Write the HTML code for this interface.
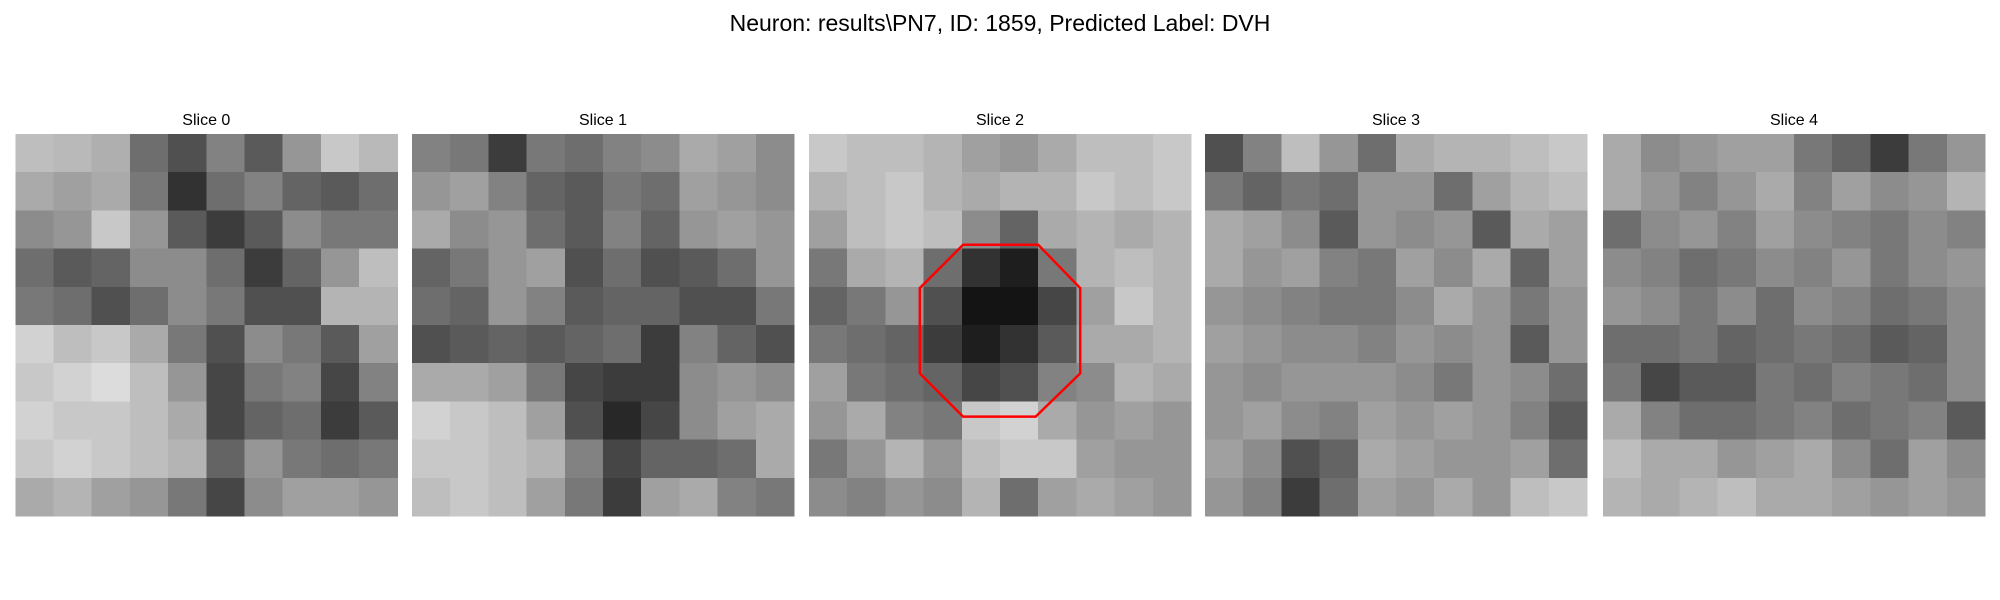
<!DOCTYPE html>
<html><head><meta charset="utf-8"><style>
html,body{margin:0;padding:0;background:#fff;}
svg{display:block;font-family:"Liberation Sans","DejaVu Sans",sans-serif;}
</style></head><body>
<svg id="fig" width="2000" height="600" viewBox="0 0 2000 600" xmlns="http://www.w3.org/2000/svg">
<text x="1000" y="31" text-anchor="middle" font-size="23" fill="#000">Neuron: results\PN7, ID: 1859, Predicted Label: DVH</text>
<g id="panels"></g>
</svg>
<script>
const sliceTitles = ["Slice 0","Slice 1","Slice 2","Slice 3","Slice 4"];
const slice0 = [
[190,185,175,110,80,130,90,150,200,185],
[170,160,170,120,50,110,130,100,90,110],
[140,150,200,150,90,60,90,140,120,120],
[110,90,100,140,140,110,60,100,150,190],
[120,110,80,110,140,120,80,80,180,180],
[210,190,200,170,120,80,140,120,90,160],
[200,210,220,190,150,70,120,130,70,130],
[210,200,200,190,170,70,100,110,60,90],
[200,210,200,190,180,100,150,120,110,120],
[170,180,160,150,120,70,140,160,160,150]];
const slice1 = [
[130,120,60,120,110,130,140,170,160,140],
[150,160,130,100,90,120,110,160,150,140],
[170,140,150,110,90,130,100,150,160,150],
[100,120,150,160,80,110,80,90,110,150],
[110,100,150,130,90,100,100,80,80,120],
[80,90,100,90,100,110,60,130,100,80],
[170,170,160,120,70,60,60,140,150,140],
[210,200,190,160,80,40,70,140,160,170],
[200,200,190,180,130,70,100,100,110,170],
[190,200,190,160,120,60,160,170,130,120]];
const slice2 = [
[200,190,190,180,160,150,170,190,190,200],
[180,190,200,180,170,180,180,200,190,200],
[160,190,200,190,140,100,170,180,170,180],
[120,170,180,110,50,30,120,180,190,180],
[100,120,150,80,20,20,70,160,200,180],
[120,110,100,60,30,50,90,170,170,180],
[160,120,110,100,70,80,130,140,180,170],
[150,170,130,120,200,210,170,150,160,150],
[120,150,180,150,190,200,200,160,150,150],
[140,130,150,140,180,110,160,170,160,150]];
const slice3 = [
[80,130,190,150,110,170,180,180,190,200],
[120,100,120,110,150,150,110,160,180,190],
[170,160,140,90,150,140,150,90,170,160],
[170,150,160,130,120,160,140,170,100,160],
[150,140,130,120,120,140,170,150,120,150],
[160,150,140,140,130,150,140,150,90,150],
[150,140,150,150,150,140,120,150,140,110],
[150,160,140,130,160,150,160,150,130,90],
[160,140,80,100,170,160,150,150,160,110],
[150,130,60,110,160,150,170,150,190,200]];
const slice4 = [
[170,140,150,160,160,120,100,60,120,150],
[170,150,130,150,170,130,160,140,150,180],
[110,140,150,130,160,140,130,120,140,130],
[140,130,110,120,140,130,150,120,140,150],
[150,140,120,140,110,140,130,110,120,140],
[110,110,120,100,110,120,110,90,100,140],
[120,70,90,90,120,110,130,120,110,140],
[170,130,110,110,120,130,110,120,130,90],
[190,170,170,150,160,170,140,110,160,140],
[180,170,180,190,170,170,160,150,160,150]];
const slices = [slice0, slice1, slice2, slice3, slice4];
const outlineSlice = 2;
const outlineX = [12.1,18,21.3,21.3,17.8,12.1,8.7,8.7];
const outlineY = [8.7,8.7,12.1,18.8,22.2,22.2,18.8,12.1];
const gridUnits = 30;

const NS = "http://www.w3.org/2000/svg";
const panelLeft = [15.3, 412, 809, 1205, 1603];
const panelTop = 134, panelSize = 382;
const g = document.getElementById('panels');
function mk(tag, attrs){const e=document.createElementNS(NS,tag);for(const k in attrs)e.setAttribute(k,attrs[k]);return e;}
slices.forEach((data, si) => {
  const x0 = panelLeft[si];
  const pg = mk('g', {});
  
  
  const t = mk('text', {x: x0 + panelSize/2, y: 125, 'text-anchor':'middle', 'font-size':'16', fill:'#000'});
  t.textContent = sliceTitles[si];
  
  
  pg.appendChild(t);
  const rows = data.length, cols = data[0].length;
  const cw = panelSize / cols, ch = panelSize / rows;
  const sx = u => x0 + u / gridUnits * panelSize;
  const sy = u => panelTop + u / gridUnits * panelSize;
  for (let r = 0; r < rows; r++) for (let c = 0; c < cols; c++) {
    const v = Math.round(data[r][c]);
    const rect = mk('rect', {x: x0 + c*cw, y: panelTop + r*ch, width: cw + 0.6, height: ch + 0.6, fill: `rgb(${v},${v},${v})`, 'shape-rendering':'crispEdges'});
    
    
    pg.appendChild(rect);
  }
  if (si === outlineSlice) {
    const pts = outlineX.map((vx, i) => sx(vx) + ',' + sy(outlineY[i])).join(' ');
    const poly = mk('polygon', {points: pts, fill: 'none', stroke: '#ff0000', 'stroke-width': '2.5'});
    
    
    pg.appendChild(poly);
  }
  g.appendChild(pg);
});
</script>
</body></html>
